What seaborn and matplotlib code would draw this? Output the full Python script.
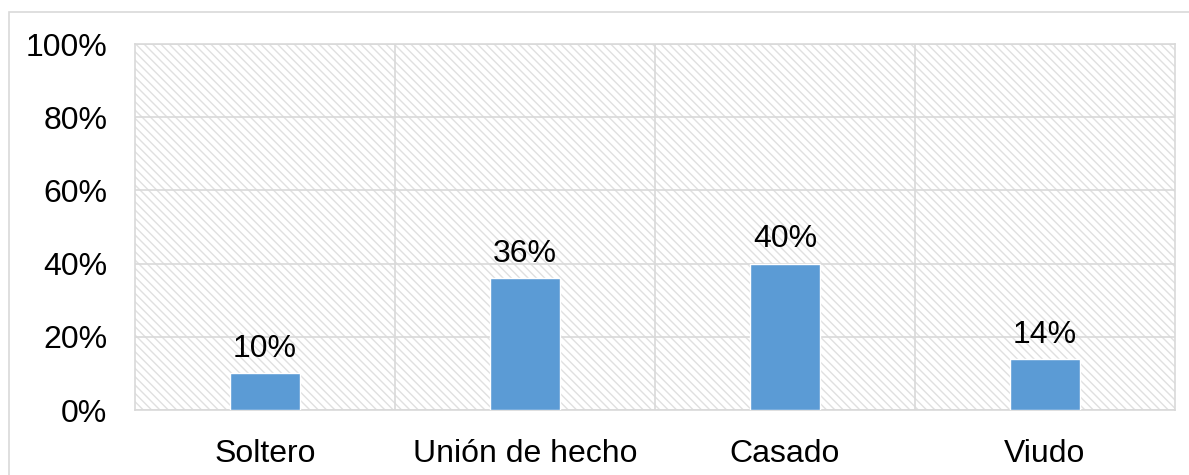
import matplotlib
matplotlib.use("Agg")
import matplotlib.pyplot as plt
from matplotlib.patches import Rectangle
from matplotlib.ticker import PercentFormatter, FixedLocator
import seaborn as sns
import pandas as pd

categories = ["Soltero", "Unión de hecho", "Casado", "Viudo"]
values = [10, 36, 40, 14]

df = pd.DataFrame({"estado": categories, "pct": values})

sns.set_style("white")
plt.rcParams["font.family"] = ["Liberation Sans", "DejaVu Sans"]
plt.rcParams["hatch.color"] = "#e0e0e0"
plt.rcParams["hatch.linewidth"] = 1.0

fig = plt.figure(figsize=(11.89, 4.75), dpi=100)
ax = fig.add_axes([135 / 1189, 1 - 410 / 475, 1040 / 1189, 366 / 475])

# outer chart border
fig.patches.append(Rectangle((9 / 1189, -0.05), 1.1, 1 - 12 / 475 + 0.05,
                             transform=fig.transFigure, fill=False,
                             edgecolor="#d9d9d9", linewidth=1.2, zorder=0))

# hatched plot background
ax.add_patch(Rectangle((0, 0), 1, 1, transform=ax.transAxes, facecolor="white",
                       edgecolor="#e0e0e0", hatch="\\\\\\\\", linewidth=0, zorder=0))

sns.barplot(data=df, x="estado", y="pct", color="#5B9BD5", width=0.27,
            saturation=1, ax=ax, zorder=3)

ax.set_ylim(0, 100)
ax.set_xlim(-0.5, 3.5)
ax.yaxis.set_major_locator(FixedLocator([0, 20, 40, 60, 80, 100]))
ax.yaxis.set_major_formatter(PercentFormatter(decimals=0))
ax.xaxis.set_minor_locator(FixedLocator([0.5, 1.5, 2.5]))
ax.grid(axis="y", which="major", color="#d9d9d9", linewidth=1.2, zorder=1)
ax.grid(axis="x", which="minor", color="#d9d9d9", linewidth=1.2, zorder=1)
ax.set_axisbelow(True)

for s in ax.spines.values():
    s.set_color("#d9d9d9")
    s.set_linewidth(1.2)

ax.tick_params(axis="both", which="both", length=0, labelsize=23, colors="black")
ax.tick_params(axis="y", pad=20)
ax.tick_params(axis="x", pad=21)
ax.set_xlabel("")
ax.set_ylabel("")

for i, v in enumerate(values):
    ax.text(i, v + 2.5, f"{v}%", ha="center", va="bottom", fontsize=23,
            color="black", zorder=4)

fig.savefig("out.png", dpi=100)
